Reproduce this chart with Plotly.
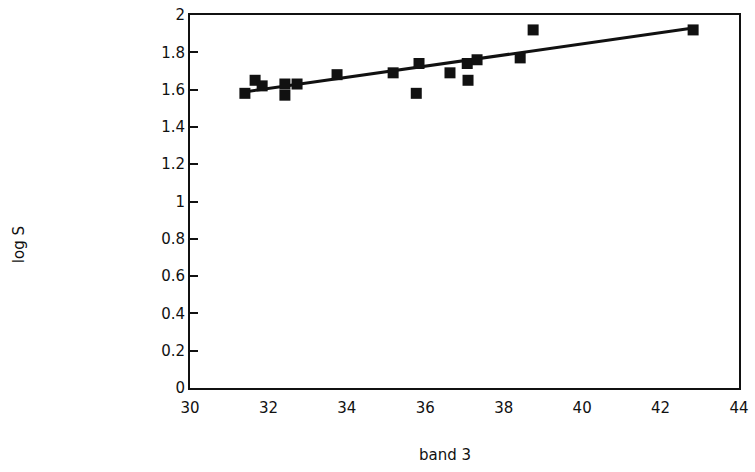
import plotly.graph_objects as go

band3 = [31.40, 31.66, 31.84, 32.42, 32.42, 32.73, 33.75, 35.18, 35.84, 35.77,
         36.63, 37.09, 37.07, 37.32, 38.42, 38.75, 42.83]
log_s = [1.58, 1.65, 1.62, 1.57, 1.63, 1.63, 1.68, 1.69, 1.74, 1.58,
         1.69, 1.65, 1.74, 1.76, 1.77, 1.92, 1.92]
fit_x = [31.30, 42.83]
fit_y = [1.585, 1.93]

x_ticks = [30, 32, 34, 36, 38, 40, 42, 44]
y_ticks = [0, 0.2, 0.4, 0.6, 0.8, 1, 1.2, 1.4, 1.6, 1.8, 2]
y_tick_text = ["0", "0.2", "0.4", "0.6", "0.8", "1", "1.2", "1.4", "1.6", "1.8", "2"]

font = "DejaVu Sans"

fig = go.Figure()
fig.add_trace(go.Scatter(x=fit_x, y=fit_y, mode="lines",
                         line=dict(color="#111111", width=3), showlegend=False))
fig.add_trace(go.Scatter(x=band3, y=log_s, mode="markers",
                         marker=dict(symbol="square", size=11, color="#111111"),
                         showlegend=False))

fig.update_layout(
    width=755, height=472,
    margin=dict(l=190, r=16, t=15, b=84, autoexpand=False),
    paper_bgcolor="white", plot_bgcolor="white",
    font=dict(family=font, size=15, color="#111111"),
    xaxis=dict(range=[30, 44], tickvals=x_ticks, ticks="", showgrid=False,
               zeroline=False, showline=True, linecolor="#111111", linewidth=2,
               mirror=True, tickfont=dict(size=15), ticklabelstandoff=5,
               automargin=False),
    yaxis=dict(range=[0, 2], tickvals=y_ticks, ticktext=y_tick_text,
               ticks="inside", ticklen=8, tickwidth=2, tickcolor="#111111",
               showgrid=False, zeroline=False, showline=True, linecolor="#111111",
               linewidth=2, mirror=True, tickfont=dict(size=15),
               automargin=False),
    annotations=[
        dict(text="band 3", xref="paper", yref="paper", x=0.465, y=-0.18,
             xanchor="center", yanchor="middle", showarrow=False,
             font=dict(size=15)),
        dict(text="log S", xref="paper", yref="paper", x=-0.31, y=0.385,
             xanchor="center", yanchor="middle", showarrow=False, textangle=-90,
             font=dict(size=15)),
    ],
)

fig.write_html("out.html", config={"displayModeBar": False},
               post_script="document.body.style.margin='0';document.body.style.padding='0';")
